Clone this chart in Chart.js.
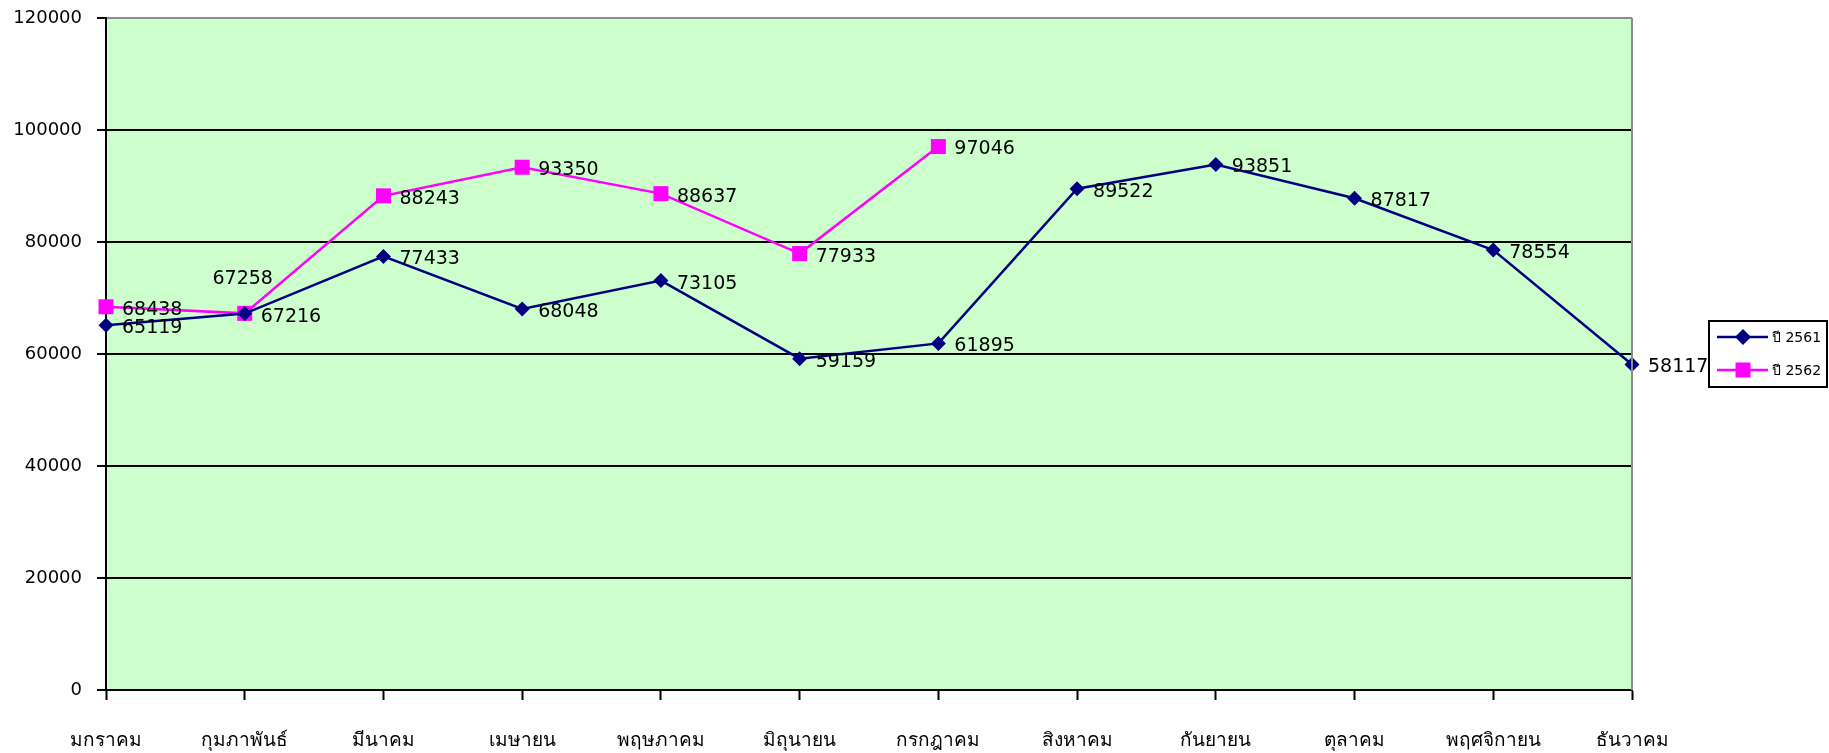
<!DOCTYPE html>
<html>
<head>
<meta charset="utf-8">
<script src="https://cdn.jsdelivr.net/npm/chart.js@4.4.1/dist/chart.umd.min.js"></script>
<style>
  html, body { margin: 0; padding: 0; background: #fff; }
  #wrap { width: 1829px; height: 753px; position: relative; }
</style>
</head>
<body>
<div id="wrap"><canvas id="monthChart"></canvas></div>
<script>
// month names (Thai)
var months = ['มกราคม', 'กุมภาพันธ์', 'มีนาคม', 'เมษายน', 'พฤษภาคม', 'มิถุนายน',
    'กรกฎาคม', 'สิงหาคม', 'กันยายน', 'ตุลาคม', 'พฤศจิกายน', 'ธันวาคม'];
var seriesNames = ['ปี 2561', 'ปี 2562'];
var year2561 = [65119, 67216, 77433, 68048, 73105, 59159, 61895, 89522, 93851, 87817, 78554, 58117];
var year2562 = [68438, 67258, 88243, 93350, 88637, 77933, 97046, null, null, null, null, null];
var yTicks = [0, 20000, 40000, 60000, 80000, 100000, 120000];

var FONT = "Tahoma, 'DejaVu Sans', sans-serif";
var NAVY = '#000080', PINK = '#FF00FF';

// green plot area + grey right edge
var plotBg = {
    id: 'plotBg',
    beforeDraw: function(chart) {
        var a = chart.chartArea, c = chart.ctx;
        c.save();
        c.fillStyle = '#CCFFCC';
        c.fillRect(a.left, a.top, a.right - a.left, a.bottom - a.top);
        c.restore();
    },
    afterDraw: function(chart) {
        var a = chart.chartArea, c = chart.ctx;
        c.save();
        c.strokeStyle = '#8c8c8c';
        c.lineWidth = 2;
        c.beginPath();
        c.moveTo(a.right, a.top);
        c.lineTo(a.right, a.bottom);
        c.stroke();
        c.restore();
    }
};

// value labels next to points
var valueLabels = {
    id: 'valueLabels',
    afterDatasetsDraw: function(chart) {
        var c = chart.ctx;
        c.save();
        c.font = '19px ' + FONT;
        c.fillStyle = '#000';
        c.textBaseline = 'middle';
        chart.data.datasets.forEach(function(ds, di) {
            var meta = chart.getDatasetMeta(di);
            meta.data.forEach(function(pt, i) {
                var v = ds.data[i];
                if (v == null) return;
                if (di === 1 && i === 1) {
                    c.textAlign = 'center';
                    c.fillText(String(v), pt.x - 2, pt.y - 34);
                } else {
                    c.textAlign = 'left';
                    c.fillText(String(v), pt.x + 16, pt.y + 3);
                }
            });
        });
        c.restore();
    }
};

// boxed legend with line + marker
var boxLegend = {
    id: 'boxLegend',
    afterDraw: function(chart) {
        var c = chart.ctx;
        var bx = 1709, by = 321, bw = 118, bh = 66;
        c.save();
        c.fillStyle = '#fff';
        c.fillRect(bx, by, bw, bh);
        c.strokeStyle = '#000';
        c.lineWidth = 2;
        c.strokeRect(bx, by, bw, bh);
        chart.data.datasets.forEach(function(ds, di) {
            var y = by + 16 + di * 33;
            c.strokeStyle = ds.borderColor;
            c.lineWidth = 2.5;
            c.beginPath();
            c.moveTo(bx + 8, y);
            c.lineTo(bx + 59, y);
            c.stroke();
            c.fillStyle = ds.pointBackgroundColor;
            var mx = bx + 34;
            c.beginPath();
            if (ds.pointStyle === 'rectRot') {
                c.moveTo(mx - 8, y); c.lineTo(mx, y - 8); c.lineTo(mx + 8, y); c.lineTo(mx, y + 8);
            } else {
                c.rect(mx - 7.5, y - 7.5, 15, 15);
            }
            c.closePath();
            c.fill();
            c.fillStyle = '#000';
            c.font = '14px ' + FONT;
            c.textAlign = 'left';
            c.textBaseline = 'middle';
            c.fillText(ds.label, bx + 63, y + 1);
        });
        c.restore();
    }
};

new Chart(document.getElementById('monthChart'), {
    type: 'line',
    data: {
        labels: months,
        datasets: [{
            label: seriesNames[0],
            data: year2561,
            borderColor: NAVY,
            backgroundColor: NAVY,
            pointBackgroundColor: NAVY,
            pointBorderColor: NAVY,
            pointStyle: 'rectRot',
            pointRadius: 7.5,
            pointBorderWidth: 0,
            borderWidth: 2.5,
            tension: 0,
            clip: false
        }, {
            label: seriesNames[1],
            data: year2562,
            borderColor: PINK,
            backgroundColor: PINK,
            pointBackgroundColor: PINK,
            pointBorderColor: PINK,
            pointStyle: 'rect',
            pointRadius: 10.6,
            pointBorderWidth: 0,
            borderWidth: 2.5,
            tension: 0,
            spanGaps: false,
            clip: false
        }]
    },
    options: {
        responsive: true,
        maintainAspectRatio: false,
        animation: false,
        layout: { autoPadding: false, padding: { left: 0, top: 18, right: 197, bottom: 0 } },
        plugins: {
            legend: { display: false },
            tooltip: { enabled: false }
        },
        scales: {
            x: {
                offset: false,
                grid: {
                    drawOnChartArea: false,
                    drawTicks: true,
                    tickLength: 10,
                    tickColor: '#000',
                    tickWidth: 2
                },
                border: { color: '#000', width: 2 },
                ticks: {
                    autoSkip: false,
                    maxRotation: 0,
                    padding: 30,
                    color: '#000',
                    font: { family: FONT, size: 19 }
                },
                afterFit: function(s) { s.height = 63; }
            },
            y: {
                min: 0,
                max: 120000,
                afterBuildTicks: function(s) {
                    s.ticks = yTicks.map(function(v) { return { value: v }; });
                },
                grid: {
                    color: function(ctx) { return ctx.tick && ctx.tick.value === 120000 ? '#8c8c8c' : '#000'; },
                    lineWidth: 2,
                    tickLength: 9,
                    tickColor: '#000',
                    tickWidth: 2
                },
                border: { color: '#000', width: 2 },
                ticks: {
                    padding: 15,
                    color: '#000',
                    font: { family: FONT, size: 18 },
                    callback: function(v) { return String(v); }
                },
                afterFit: function(s) {
                    s.width = 106;
                    s.paddingTop = 0;
                    s.paddingBottom = 0;
                }
            }
        }
    },
    plugins: [plotBg, valueLabels, boxLegend]
});
</script>
</body>
</html>
